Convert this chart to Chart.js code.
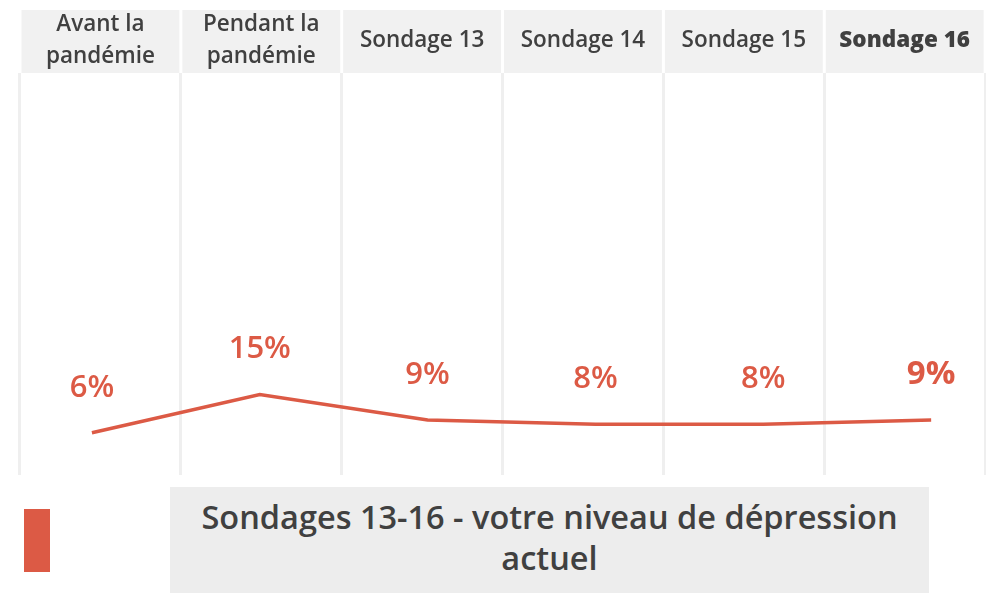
<!DOCTYPE html>
<html>
<head>
<meta charset="utf-8">
<script src="https://cdn.jsdelivr.net/npm/chart.js@4.4.1/dist/chart.umd.min.js"></script>
<style>
  html, body { margin: 0; padding: 0; background: #ffffff; }
  #wrap { position: relative; width: 986px; height: 593px; overflow: hidden; font-family: "Open Sans", sans-serif; }
  #chartBox { position: absolute; left: 0; top: 0; width: 986px; height: 478px; }
  #legSwatch { position: absolute; left: 24px; top: 509px; width: 26px; height: 63px; background: #dc5a45; }
  #legBox { position: absolute; left: 170px; top: 487px; width: 759px; height: 110px; background: #ededed;
            color: #404040; font-size: 32.5px; font-weight: 600; line-height: 41px; text-align: center;
            box-sizing: border-box; padding-top: 9px; }
</style>
</head>
<body>
<div id="wrap">
  <div id="chartBox"><canvas id="c"></canvas></div>
  <div id="legSwatch"></div>
  <div id="legBox">Sondages 13-16 - votre niveau de dépression<br>actuel</div>
</div>
<script>
const categories = [["Avant la", "pandémie"], ["Pendant la", "pandémie"], "Sondage 13", "Sondage 14", "Sondage 15", "Sondage 16"];
const seriesName = "Sondages 13-16 - votre niveau de dépression actuel";
const depressionValues = [6, 15, 9, 8, 8, 9];

const RED = '#dc5a45';
const TEXT = '#404040';

const headerBg = {
  id: 'headerBg',
  beforeDraw(chart) {
    const s = chart.scales.xh;
    const ctx = chart.ctx;
    ctx.save();
    ctx.fillStyle = '#f1f1f1';
    const n = s.ticks.length;
    const band = (s.right - s.left) / n;
    for (let i = 0; i < n; i++) {
      const x0 = s.left + i * band;
      ctx.fillRect(x0 + 1.5, s.top, band - 3, s.bottom - s.top);
    }
    ctx.restore();
  }
};

const valueLabels = {
  id: 'valueLabels',
  afterDatasetsDraw(chart) {
    const meta = chart.getDatasetMeta(0);
    const ctx = chart.ctx;
    ctx.save();
    ctx.fillStyle = RED;
    ctx.textAlign = 'center';
    ctx.textBaseline = 'middle';
    meta.data.forEach((pt, i) => {
      const last = i === meta.data.length - 1;
      ctx.font = (last ? '700 33px' : '600 31px') + ' "Open Sans", sans-serif';
      ctx.fillText(depressionValues[i] + '%', pt.x, pt.y - 45);
    });
    ctx.restore();
  }
};

new Chart(document.getElementById('c'), {
  type: 'line',
  data: {
    labels: categories,
    datasets: [{
      label: seriesName,
      data: depressionValues.map((v, i) => ({ x: i, y: v })),
      borderColor: RED,
      backgroundColor: RED,
      borderWidth: 3.5,
      pointRadius: 0,
      tension: 0,
      xAxisID: 'x',
      yAxisID: 'y'
    }]
  },
  options: {
    responsive: true,
    maintainAspectRatio: false,
    animation: false,
    layout: { padding: { left: 20, top: 10, right: 0, bottom: 3 } },
    plugins: { legend: { display: false }, tooltip: { enabled: false } },
    scales: {
      x: { type: 'linear', display: false, min: -0.42857, max: 5.32143 },
      xh: {
        type: 'category',
        position: 'top',
        labels: categories,
        offset: true,
        border: { display: false },
        grid: { offset: true, color: '#efefef', lineWidth: 3, drawTicks: false },
        ticks: {
          color: TEXT,
          crossAlign: 'center',
          padding: 16,
          maxRotation: 0,
          autoSkip: false,
          font: (c) => ({ family: '"Open Sans", sans-serif', size: 22.5, lineHeight: 1.42, weight: c.index === 5 ? '800' : '600' })
        },
        afterFit(s) { s.height = 63; }
      },
      y: { display: false, min: -4, max: 91 }
    }
  },
  plugins: [headerBg, valueLabels]
});
</script>
</body>
</html>
